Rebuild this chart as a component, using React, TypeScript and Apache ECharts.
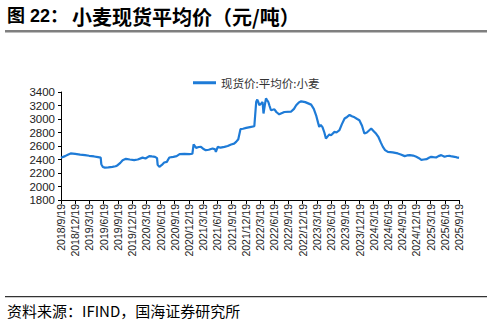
import React, { useEffect, useRef } from "react";
import * as echarts from "echarts";

const TITLE_PREFIX = "图 22：";
const TITLE_MAIN = "小麦现货平均价（元/吨）";
const SOURCE = "资料来源：IFIND，国海证券研究所";
const SERIES_NAME = "现货价:平均价:小麦";

const tickLabels = [
  "2018/9/19", "2018/12/19", "2019/3/19", "2019/6/19", "2019/9/19", "2019/12/19",
  "2020/3/19", "2020/6/19", "2020/9/19", "2020/12/19", "2021/3/19", "2021/6/19",
  "2021/9/19", "2021/12/19", "2022/3/19", "2022/6/19", "2022/9/19", "2022/12/19",
  "2023/3/19", "2023/6/19", "2023/9/19", "2023/12/19", "2024/3/19", "2024/6/19",
  "2024/9/19", "2024/12/19", "2025/3/19", "2025/6/19", "2025/9/19",
];

const dates = [
  "2018-09-19", "2018-10-15", "2018-11-05", "2018-11-20", "2018-12-19", "2019-01-20",
  "2019-02-20", "2019-03-19", "2019-04-20", "2019-05-15", "2019-06-01", "2019-06-05",
  "2019-06-15", "2019-06-28", "2019-07-20", "2019-08-15", "2019-09-05", "2019-09-18",
  "2019-10-05", "2019-10-20", "2019-11-10", "2019-12-05", "2020-01-02", "2020-01-25",
  "2020-02-25", "2020-03-15", "2020-04-08", "2020-04-25", "2020-05-15", "2020-05-28",
  "2020-06-01", "2020-06-12", "2020-06-28", "2020-07-13", "2020-07-30", "2020-08-15",
  "2020-09-10", "2020-10-01", "2020-10-20", "2020-11-20", "2020-12-22", "2021-01-10",
  "2021-01-18", "2021-02-03", "2021-02-20", "2021-03-06", "2021-03-20", "2021-04-06",
  "2021-04-25", "2021-05-20", "2021-06-05", "2021-06-10", "2021-06-22", "2021-07-10",
  "2021-08-04", "2021-08-25", "2021-09-16", "2021-10-05", "2021-10-18", "2021-11-01",
  "2021-11-15", "2021-12-01", "2021-12-22", "2022-01-15", "2022-02-12", "2022-02-24",
  "2022-03-03", "2022-03-10", "2022-03-16", "2022-03-28", "2022-04-06", "2022-04-12",
  "2022-04-20", "2022-04-28", "2022-05-05", "2022-05-13", "2022-05-20", "2022-05-30",
  "2022-06-21", "2022-07-05", "2022-07-22", "2022-08-24", "2022-10-07", "2022-10-25",
  "2022-11-08", "2022-11-25", "2022-12-10", "2023-01-05", "2023-02-12", "2023-03-01",
  "2023-03-16", "2023-03-28", "2023-04-05", "2023-04-15", "2023-04-26", "2023-05-08",
  "2023-05-18", "2023-06-01", "2023-06-09", "2023-06-20", "2023-07-12", "2023-07-25",
  "2023-08-13", "2023-08-28", "2023-09-15", "2023-10-01", "2023-10-17", "2023-11-01",
  "2023-11-18", "2023-12-05", "2023-12-19", "2024-01-05", "2024-01-20", "2024-02-05",
  "2024-03-04", "2024-03-20", "2024-04-05", "2024-04-20", "2024-05-05", "2024-05-18",
  "2024-06-01", "2024-06-19", "2024-07-20", "2024-08-22", "2024-09-10", "2024-10-05",
  "2024-10-20", "2024-11-07", "2024-11-28", "2024-12-19", "2025-01-05", "2025-01-20",
  "2025-02-05", "2025-02-22", "2025-03-10", "2025-03-24", "2025-04-08", "2025-04-25",
  "2025-05-10", "2025-05-28", "2025-06-18", "2025-07-05", "2025-07-20", "2025-08-05",
  "2025-08-22", "2025-09-05", "2025-09-19",
];

const prices = [
  2425, 2450, 2475, 2490, 2482, 2472,
  2465, 2455, 2445, 2435, 2428, 2330,
  2290, 2280, 2283, 2292, 2300, 2316,
  2350, 2390, 2410, 2400, 2392, 2400,
  2428, 2415, 2450, 2445, 2440, 2420,
  2320, 2291, 2320, 2356, 2365, 2430,
  2440, 2450, 2479, 2482, 2479, 2485,
  2623, 2572, 2585, 2587, 2560, 2538,
  2545, 2563, 2550, 2513, 2587, 2575,
  2587, 2600, 2623, 2635, 2661, 2700,
  2849, 2855, 2868, 2880, 2893, 3252,
  3288, 3250, 3203, 3230, 3252, 3081,
  3200, 3305, 3280, 3252, 3200, 3130,
  3144, 3100, 3070, 3104, 3110, 3150,
  3203, 3245, 3262, 3250, 3213, 3150,
  3055, 2950, 2883, 2910, 2880, 2800,
  2711, 2750, 2770, 2760, 2809, 2800,
  2834, 2920, 3007, 3030, 3060, 3040,
  3025, 3000, 2982, 2900, 2785, 2800,
  2859, 2820, 2780, 2730, 2650, 2587,
  2540, 2513, 2505, 2490, 2475, 2450,
  2460, 2465, 2458, 2440, 2420, 2395,
  2400, 2405, 2425, 2440, 2435, 2430,
  2450, 2465, 2440, 2452, 2454, 2445,
  2440, 2432, 2425,
];

const Y_MIN = 1800;
const Y_MAX = 3400;
const Y_STEP = 200;

const SANS = "'Liberation Sans', Arial, 'Noto Sans CJK SC', sans-serif";
const CJK = "'Noto Sans CJK SC', 'Liberation Sans', sans-serif";

export default function App() {
  const ref = useRef<HTMLDivElement>(null);

  useEffect(() => {
    if (!ref.current) return;
    const chart = echarts.init(ref.current, undefined, { renderer: "svg" });
    const seriesData = dates.map((d, i) => [d, prices[i]]);
    chart.setOption({
      animation: false,
      backgroundColor: "#ffffff",
      textStyle: { fontFamily: SANS },
      graphic: [
        {
          type: "text",
          left: 7,
          top: 7,
          style: {
            text: TITLE_PREFIX,
            font: `bold 18px ${SANS}`,
            fill: "#000",
          },
        },
        {
          type: "text",
          left: 72,
          top: 6,
          style: {
            text: TITLE_MAIN,
            font: `bold 20px ${CJK}`,
            fill: "#000",
          },
        },
        {
          type: "rect",
          shape: { x: 5, y: 30, width: 482, height: 2.5 },
          style: { fill: "#7f7f7f" },
        },
        {
          type: "rect",
          shape: { x: 5, y: 296, width: 482, height: 1.2 },
          style: { fill: "#333" },
        },
        {
          type: "text",
          left: 7,
          top: 303,
          style: {
            text: SOURCE,
            font: `15px ${CJK}`,
            fill: "#000",
          },
        },
      ],
      legend: {
        left: 188,
        top: 72,
        icon: "rect",
        itemWidth: 23,
        itemHeight: 3,
        itemGap: 4,
        textStyle: { fontFamily: CJK, fontSize: 11.5, color: "#333" },
        data: [SERIES_NAME],
      },
      grid: { left: 61, right: 33, top: 92, bottom: 125 },
      xAxis: [
        {
          type: "time",
          min: "2018-09-19",
          max: "2025-09-19",
          show: false,
        },
        {
          type: "category",
          data: tickLabels,
          boundaryGap: false,
          position: "bottom",
          axisLine: { show: true, lineStyle: { color: "#000", width: 1 } },
          axisTick: { show: true, interval: 0, length: 4, lineStyle: { color: "#000" } },
          axisLabel: {
            interval: 0,
            rotate: 90,
            fontSize: 10.5,
            color: "#222",
            margin: 4,
            fontFamily: SANS,
          },
          splitLine: { show: false },
        },
      ],
      yAxis: {
        type: "value",
        min: Y_MIN,
        max: Y_MAX,
        interval: Y_STEP,
        axisLine: { show: true, lineStyle: { color: "#000", width: 1 } },
        axisTick: { show: true, length: 3, lineStyle: { color: "#000" } },
        axisLabel: {
          fontSize: 11.5,
          color: "#222",
          margin: 6,
          fontFamily: SANS,
          formatter: (v: number) => String(v),
        },
        splitLine: { show: false },
      },
      series: [
        {
          name: SERIES_NAME,
          type: "line",
          xAxisIndex: 0,
          data: seriesData,
          symbol: "none",
          lineStyle: { color: "#1E7BD7", width: 2.2 },
          itemStyle: { color: "#1E7BD7" },
        },
      ],
    });
    return () => chart.dispose();
  }, []);

  return <div ref={ref} style={{ width: 492, height: 325, position: "absolute", left: 0, top: 0 }} />;
}
